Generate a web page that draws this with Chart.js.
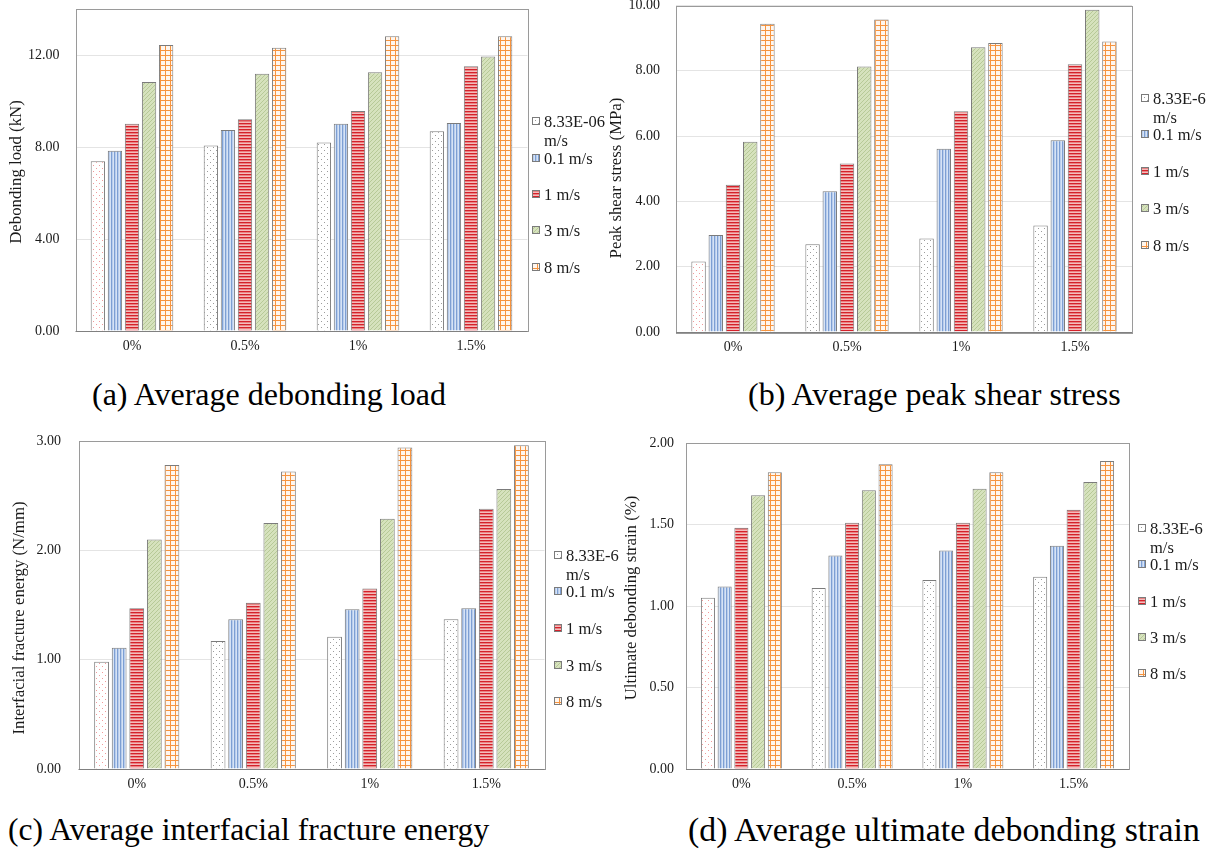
<!DOCTYPE html>
<html>
<head>
<meta charset="utf-8">
<script src="https://cdn.jsdelivr.net/npm/chart.js@4.4.1/dist/chart.umd.min.js"></script>
<style>
  html, body { margin: 0; padding: 0; background: #fff; }
  body {
    width: 1215px; height: 852px; position: relative; overflow: hidden;
    font-family: 'Liberation Serif', 'Times New Roman', serif; color: #000;
  }
  canvas.chart { position: absolute; }
  .ytitle {
    position: absolute; white-space: nowrap; font-size: 16.8px; color: #1a1a1a;
    transform: translate(-50%, -50%) rotate(-90deg);
  }
  .caption { position: absolute; white-space: nowrap; line-height: 36px; }
  .leg { position: absolute; font-size: 16.5px; line-height: 19px; color: #1a1a1a; }
  .leg canvas { position: absolute; left: 0; top: 5px; }
  .leg span { position: absolute; left: 12px; top: 0; width: 70px; }
</style>
</head>
<body>

<canvas id="cA" class="chart"></canvas>
<canvas id="cB" class="chart"></canvas>
<canvas id="cC" class="chart"></canvas>
<canvas id="cD" class="chart"></canvas>

<script>
// ---- data ----
const categories = ['0%', '0.5%', '1%', '1.5%'];
const ratesA = ['8.33E-06 m/s', '0.1 m/s', '1 m/s', '3 m/s', '8 m/s'];
const rates = ['8.33E-6 m/s', '0.1 m/s', '1 m/s', '3 m/s', '8 m/s'];

// (a) debonding load, kN
const loadQuasi = [7.38, 8.07, 8.20, 8.69];
const load01 = [7.84, 8.74, 9.01, 9.04];
const load1 = [9.01, 9.21, 9.56, 11.51];
const load3 = [10.83, 11.19, 11.25, 11.93];
const load8 = [12.43, 12.32, 12.81, 12.82];
const loadTicks = [0, 4, 8, 12];

// (b) peak shear stress, MPa
const stressQuasi = [2.16, 2.69, 2.86, 3.26];
const stress01 = [2.97, 4.31, 5.61, 5.87];
const stress1 = [4.51, 5.16, 6.76, 8.20];
const stress3 = [5.83, 8.13, 8.72, 9.87];
const stress8 = [9.44, 9.57, 8.85, 8.90];
const stressTicks = [0, 2, 4, 6, 8, 10];

// (c) interfacial fracture energy, N/mm
const energyQuasi = [0.98, 1.17, 1.21, 1.37];
const energy01 = [1.11, 1.37, 1.46, 1.47];
const energy1 = [1.47, 1.52, 1.65, 2.38];
const energy3 = [2.10, 2.25, 2.29, 2.56];
const energy8 = [2.78, 2.72, 2.94, 2.96];
const energyTicks = [0, 1, 2, 3];

// (d) ultimate debonding strain, %
const strainQuasi = [1.05, 1.11, 1.16, 1.18];
const strain01 = [1.12, 1.31, 1.34, 1.37];
const strain1 = [1.48, 1.51, 1.51, 1.59];
const strain3 = [1.68, 1.71, 1.72, 1.76];
const strain8 = [1.82, 1.87, 1.82, 1.89];
const strainTicks = [0, 0.5, 1, 1.5, 2];

// ---- fill patterns ----
function tile(w, h, draw) {
    const c = document.createElement('canvas');
    c.width = w; c.height = h;
    const g = c.getContext('2d');
    draw(g, w, h);
    return g.createPattern(c, 'repeat');
}

function dots(color) {
    return tile(6, 6, (g) => {
        g.fillStyle = '#fff'; g.fillRect(0, 0, 6, 6);
        g.fillStyle = color;
        g.fillRect(0, 0, 1, 1); g.fillRect(3, 3, 1, 1);
    });
}

const PAT = {
    dotsGray: dots('#9c9c9c'),
    dotsPink: dots('#f19a9a'),
    vertical: tile(3, 1, (g) => {
        g.fillStyle = '#d6e3f5'; g.fillRect(0, 0, 3, 1);
        g.fillStyle = '#b9cdec'; g.fillRect(1, 0, 1, 1);
        g.fillStyle = '#7d9fd3'; g.fillRect(0, 0, 1, 1);
    }),
    horizontal: tile(1, 3, (g) => {
        g.fillStyle = '#d5212a'; g.fillRect(0, 0, 1, 1);
        g.fillStyle = '#e98282'; g.fillRect(0, 1, 1, 1);
        g.fillStyle = '#f4bcbc'; g.fillRect(0, 2, 1, 1);
    }),
    diagonal: tile(4, 4, (g) => {
        g.fillStyle = '#d6e2bd'; g.fillRect(0, 0, 4, 4);
        g.fillStyle = '#b7c997';
        for (let i = 0; i < 4; i++) g.fillRect(i, 3 - i, 1, 1);
    }),
    grid: tile(5, 5, (g) => {
        g.fillStyle = '#fff6ee'; g.fillRect(0, 0, 5, 5);
        g.fillStyle = '#f6943f';
        g.fillRect(0, 0, 5, 1); g.fillRect(0, 0, 1, 5);
    }),
};
const SERIES_FILLS = [PAT.dotsGray, PAT.vertical, PAT.horizontal, PAT.diagonal, PAT.grid];

// ---- panel frame drawn round the plot area ----
const plotFrame = {
    id: 'plotFrame',
    afterDatasetsDraw(chart) {
        const { ctx, chartArea: a } = chart;
        ctx.save();
        ctx.strokeStyle = '#9a9a9a';
        ctx.lineWidth = 1;
        ctx.strokeRect(Math.round(a.left) + 0.5, Math.round(a.top) + 0.5,
                       Math.round(a.right - a.left), Math.round(a.bottom - a.top));
        ctx.strokeStyle = '#808080';
        ctx.beginPath();
        ctx.moveTo(a.left, Math.round(a.bottom) + 0.5);
        ctx.lineTo(a.right, Math.round(a.bottom) + 0.5);
        ctx.stroke();
        ctx.restore();
    }
};

const FONT = "'Liberation Serif', 'Times New Roman', serif";

function buildChart(p) {
    const cv = document.getElementById(p.id);
    cv.width = p.w; cv.height = p.h;
    cv.style.left = p.x + 'px'; cv.style.top = p.y + 'px';

    const datasets = p.series.map((vals, i) => ({
        label: p.labels[i],
        data: vals,
        // the quasi-static bar of the plain specimen is drawn in pink dots
        backgroundColor: i === 0 ? vals.map((_, k) => k === 0 ? PAT.dotsPink : PAT.dotsGray)
                                 : SERIES_FILLS[i],
        borderColor: '#7b7b7b',
        borderWidth: 1,
        categoryPercentage: 0.755,
        barPercentage: 0.84,
    }));

    const chart = new Chart(cv.getContext('2d'), {
        type: 'bar',
        data: { labels: categories, datasets },
        options: {
            responsive: false,
            animation: false,
            devicePixelRatio: 1,
            layout: { padding: { left: 0, top: p.top - p.y, right: p.x + p.w - p.right, bottom: 0 } },
            plugins: { legend: { display: false }, tooltip: { enabled: false } },
            scales: {
                x: {
                    grid: { display: false, drawTicks: false },
                    border: { display: false },
                    ticks: { color: '#1a1a1a', font: { family: FONT, size: 14 }, padding: 7 },
                    afterFit(s) {
                        s.height = p.y + p.h - p.bottom;
                        s.paddingLeft = 0; s.paddingRight = 0;
                    }
                },
                y: {
                    min: 0,
                    max: p.yMax,
                    afterBuildTicks(s) { s.ticks = p.ticks.map(v => ({ value: v })); },
                    grid: { color: '#e4e4e4', drawTicks: false },
                    border: { display: false },
                    ticks: {
                        color: '#1a1a1a', font: { family: FONT, size: 14 }, padding: p.tickPad,
                        callback: v => Number(v).toFixed(2)
                    },
                    afterFit(s) {
                        s.width = p.left - p.x;
                        s.paddingTop = 0; s.paddingBottom = 0;
                    }
                }
            }
        },
        plugins: [plotFrame]
    });

    // axis title
    const t = document.createElement('div');
    t.className = 'ytitle';
    t.textContent = p.yTitle;
    t.style.left = p.titleX + 'px'; t.style.top = p.titleY + 'px';
    document.body.appendChild(t);

    // legend, one entry per loading rate
    datasets.forEach((ds, i) => {
        const item = document.createElement('div');
        item.className = 'leg';
        item.style.left = p.legX + 'px';
        item.style.top = (p.legY + i * p.legStep - 9.5) + 'px';
        const sw = document.createElement('canvas');
        sw.width = 8; sw.height = 8;
        const g = sw.getContext('2d');
        g.fillStyle = SERIES_FILLS[i];
        g.fillRect(0, 0, 8, 8);
        g.strokeStyle = '#7b7b7b';
        g.strokeRect(0.5, 0.5, 7, 7);
        const sp = document.createElement('span');
        sp.textContent = ds.label;
        item.appendChild(sw);
        item.appendChild(sp);
        document.body.appendChild(item);
    });

    // caption under the panel
    const c = document.createElement('div');
    c.className = 'caption';
    c.textContent = p.caption;
    c.style.fontSize = p.capSize + 'px';
    c.style.left = p.capX + 'px';
    c.style.top = (p.capY - 18) + 'px';
    document.body.appendChild(c);

    return chart;
}

const panels = [
    {
        id: 'cA', x: 0, y: 0, w: 600, h: 370,
        left: 75.5, top: 9, right: 527.5, bottom: 331, tickPad: 16,
        yMax: 14, ticks: loadTicks, labels: ratesA,
        series: [loadQuasi, load01, load1, load3, load8],
        yTitle: 'Debonding load (kN)', titleX: 15.5, titleY: 171.5,
        legX: 532, legY: 121.7, legStep: 36.4,
        caption: '(a) Average debonding load', capX: 92, capY: 394, capSize: 32
    },
    {
        id: 'cB', x: 600, y: 0, w: 615, h: 370,
        left: 676, top: 5.5, right: 1132, bottom: 332, tickPad: 16,
        yMax: 10, ticks: stressTicks, labels: rates,
        series: [stressQuasi, stress01, stress1, stress3, stress8],
        yTitle: 'Peak shear stress (MPa)', titleX: 616, titleY: 178,
        legX: 1141, legY: 98.2, legStep: 36.7,
        caption: '(b) Average peak shear stress', capX: 748, capY: 394, capSize: 32
    },
    {
        id: 'cC', x: 0, y: 420, w: 600, h: 380,
        left: 78.5, top: 441, right: 544.5, bottom: 769, tickPad: 17.5,
        yMax: 3, ticks: energyTicks, labels: rates,
        series: [energyQuasi, energy01, energy1, energy3, energy8],
        yTitle: 'Interfacial fracture energy (N/mm)', titleX: 19, titleY: 618,
        legX: 554, legY: 555, legStep: 36.7,
        caption: '(c) Average interfacial fracture energy', capX: 8, capY: 830, capSize: 31.6
    },
    {
        id: 'cD', x: 600, y: 420, w: 615, h: 380,
        left: 686, top: 443, right: 1129, bottom: 769, tickPad: 12,
        yMax: 2, ticks: strainTicks, labels: rates,
        series: [strainQuasi, strain01, strain1, strain3, strain8],
        yTitle: 'Ultimate debonding strain (%)', titleX: 630.5, titleY: 598,
        legX: 1138, legY: 528.3, legStep: 36.4,
        caption: '(d) Average ultimate debonding strain', capX: 688, capY: 830, capSize: 33.8
    },
];

panels.forEach(buildChart);
</script>
</body>
</html>
